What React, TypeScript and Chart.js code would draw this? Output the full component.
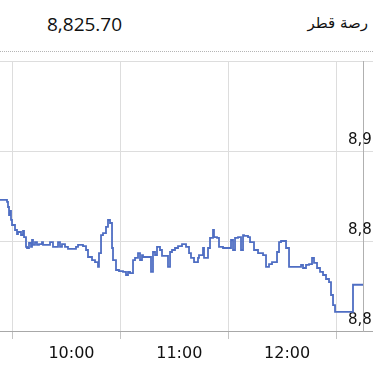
import React, { useEffect, useRef } from 'react';
import { Chart, registerables } from 'chart.js';

Chart.register(...registerables);

// ---- data ----
const indexName = 'رصة قطر';
const lastValueLabel = '8,825.70';

const times = [
  '9:23:00', '9:26:54', '9:27:27', '9:28:01', '9:28:34', '9:29:07', '9:29:41', '9:31:21', '9:32:28', '9:33:01',
  '9:34:41', '9:35:48', '9:36:22', '9:37:28', '9:38:02', '9:39:08', '9:40:15', '9:40:49', '9:41:22', '9:42:29',
  '9:43:35', '9:44:42', '9:46:22', '9:46:56', '9:50:50', '9:52:29', '9:55:17', '9:56:23', '9:57:30', '9:59:10',
  '10:00:50', '10:05:17', '10:06:25', '10:09:11', '10:10:52', '10:11:58', '10:14:12', '10:15:52', '10:17:32', '10:18:05',
  '10:19:13', '10:20:19', '10:21:59', '10:23:06', '10:24:13', '10:25:20', '10:25:53', '10:27:33', '10:29:13', '10:31:27',
  '10:33:07', '10:34:14', '10:35:21', '10:37:01', '10:38:08', '10:39:48', '10:40:55', '10:42:01', '10:42:35', '10:47:02',
  '10:48:08', '10:49:16', '10:50:22', '10:52:02', '10:53:09', '10:56:29', '10:57:37', '10:58:43', '11:00:23', '11:02:04',
  '11:04:17', '11:06:31', '11:08:11', '11:09:17', '11:10:58', '11:13:11', '11:13:44', '11:15:58', '11:16:32', '11:18:45',
  '11:19:52', '11:21:32', '11:22:05', '11:23:46', '11:24:52', '11:27:06', '11:31:33', '11:32:40', '11:33:47', '11:35:27',
  '11:37:07', '11:38:14', '11:38:47', '11:41:01', '11:42:08', '11:44:21', '11:46:35', '11:49:22', '11:51:02', '11:52:42',
  '11:54:22', '11:57:09', '11:58:16', '11:59:23', '12:02:10', '12:03:50', '12:10:31', '12:11:37', '12:13:17', '12:14:58',
  '12:16:38', '12:17:44', '12:19:25', '12:21:05', '12:22:45', '12:24:25', '12:26:05', '12:27:12', '12:28:19', '12:29:26',
  '12:39:26', '12:45:00',
];

const values = [
  8872.8, 8871.7, 8868.9, 8864.4, 8866.7, 8861.7, 8858.9, 8856.1, 8853.9, 8855.0,
  8853.3, 8855.6, 8852.2, 8846.7, 8846.1, 8848.9, 8846.7, 8850.6, 8847.8, 8849.4,
  8847.8, 8848.3, 8849.4, 8847.8, 8849.4, 8846.7, 8849.4, 8846.7, 8848.3, 8846.7,
  8845.6, 8846.7, 8847.8, 8847.2, 8845.0, 8841.1, 8839.4, 8838.3, 8835.6, 8843.3,
  8853.3, 8854.4, 8857.8, 8861.7, 8860.0, 8846.1, 8839.4, 8833.9, 8833.3, 8832.8,
  8831.1, 8832.8, 8832.2, 8839.4, 8840.6, 8843.3, 8839.4, 8842.2, 8841.1, 8832.8,
  8843.9, 8842.2, 8846.7, 8845.0, 8841.7, 8835.6, 8843.9, 8845.0, 8846.1, 8847.2,
  8848.3, 8846.7, 8843.3, 8840.6, 8838.3, 8840.6, 8842.2, 8846.1, 8840.6, 8846.1,
  8851.7, 8856.1, 8852.2, 8851.7, 8846.7, 8846.1, 8850.6, 8845.0, 8851.7, 8852.2,
  8845.0, 8853.3, 8852.8, 8852.2, 8849.4, 8845.0, 8843.3, 8842.2, 8835.6, 8837.2,
  8838.3, 8843.9, 8849.4, 8850.0, 8846.1, 8835.6, 8836.7, 8835.0, 8836.7, 8837.2,
  8840.6, 8837.8, 8835.0, 8832.8, 8831.1, 8828.9, 8827.2, 8820.0, 8814.4, 8810.6,
  8825.7, 8825.7,
];

const gridTimes = ['9:30', '10:30', '11:30', '12:30'];
const hourLabels = ['10:00', '11:00', '12:00'];
const xStart = '9:23';
const xEnd = '12:45';
const yMin = 8800;
const yMax = 8950;
const yStep = 50;

// ---- helpers ----
const toMin = (s: string) => {
  const p = s.split(':').map(Number);
  return p[0] * 60 + (p[1] || 0) + (p[2] || 0) / 60;
};
const pad2 = (n: number) => (n < 10 ? '0' + n : '' + n);
const minToLabel = (m: number) => `${Math.floor(m / 60)}:${pad2(Math.round(m % 60))}`;
const fmtThousands = (v: number) => {
  const s = String(Math.round(v));
  return s.replace(/\B(?=(\d{3})+(?!\d))/g, ',');
};

const CANVAS_W = 430;
const CANVAS_H = 309;
const PLOT_RIGHT = 363;

export default function App() {
  const ref = useRef<HTMLCanvasElement | null>(null);

  useEffect(() => {
    if (!ref.current) return;
    const gridSet = new Set(gridTimes.map(toMin));
    const labelSet = new Set(hourLabels.map(toMin));
    const allTicks = [...gridTimes, ...hourLabels].map(toMin).sort((a, b) => a - b);

    const chart = new Chart(ref.current, {
      type: 'line',
      data: {
        datasets: [
          {
            data: times.map((t, i) => ({ x: toMin(t), y: values[i] })),
            stepped: true,
            borderColor: '#4f6ec3',
            borderWidth: 1.8,
            pointRadius: 0,
            fill: false,
            tension: 0,
          },
        ],
      },
      options: {
        animation: false,
        responsive: false,
        devicePixelRatio: 1,
        layout: { padding: { top: 5, left: 0, right: 0, bottom: 0 } },
        plugins: { legend: { display: false }, tooltip: { enabled: false }, title: { display: false } },
        scales: {
          x: {
            type: 'linear',
            min: toMin(xStart),
            max: toMin(xEnd),
            afterBuildTicks: (axis: any) => {
              axis.ticks = allTicks.map((v) => ({ value: v }));
            },
            afterFit: (axis: any) => {
              axis.height = 34;
              axis.paddingLeft = 0;
              axis.paddingRight = 0;
            },
            ticks: {
              autoSkip: false,
              maxRotation: 0,
              minRotation: 0,
              padding: 5,
              labelOffset: 5,
              color: '#111',
              font: { family: 'DejaVu Sans', size: 16 },
              callback: (v: any) => (labelSet.has(Number(v)) ? minToLabel(Number(v)) : ''),
            },
            grid: {
              color: (c: any) => (c.tick && gridSet.has(c.tick.value) ? '#dddddd' : 'rgba(0,0,0,0)'),
              tickColor: (c: any) => (c.tick && gridSet.has(c.tick.value) ? '#c4c4c4' : 'rgba(0,0,0,0)'),
              tickLength: 8,
              lineWidth: 1,
            },
            border: { display: true, color: '#a8a8a8', width: 1 },
          },
          y: {
            type: 'linear',
            position: 'right',
            min: yMin,
            max: yMax,
            afterFit: (axis: any) => {
              axis.width = CANVAS_W - PLOT_RIGHT;
              axis.paddingTop = 0;
              axis.paddingBottom = 0;
            },
            ticks: {
              stepSize: yStep,
              mirror: true,
              crossAlign: 'near',
              padding: 28,
              labelOffset: -11,
              color: '#111',
              font: { family: 'DejaVu Sans', size: 15 },
              callback: (v: any) => (Number(v) === yMax ? '' : fmtThousands(Number(v))),
            },
            grid: {
              color: '#dddddd',
              tickColor: (c: any) => (c.tick && c.tick.value === yMin ? '#a8a8a8' : '#dddddd'),
              tickLength: 10,
              lineWidth: 1,
            },
            border: { display: true, color: '#b0b0b0', width: 1 },
          },
        },
      },
    } as any);

    return () => chart.destroy();
  }, []);

  return (
    <div
      style={{
        position: 'fixed',
        left: 0,
        top: 0,
        width: 373,
        height: 365,
        overflow: 'hidden',
        background: '#fff',
      }}
    >
      <div
        style={{
          position: 'absolute',
          left: 47,
          top: 15,
          fontFamily: '"Open Sans", "Liberation Sans", sans-serif',
          fontSize: 19,
          lineHeight: '19px',
          color: '#111',
          whiteSpace: 'nowrap',
        }}
      >
        {lastValueLabel}
      </div>
      <div
        dir="rtl"
        style={{
          position: 'absolute',
          right: 5,
          top: 14,
          fontFamily: '"DejaVu Sans", sans-serif',
          fontSize: 15,
          lineHeight: '18px',
          color: '#111',
          whiteSpace: 'nowrap',
        }}
      >
        {indexName}
      </div>
      <div
        style={{
          position: 'absolute',
          left: 0,
          top: 51,
          width: 373,
          height: 0,
          borderTop: '1px dotted #b5b5b5',
        }}
      />
      <canvas
        ref={ref}
        width={CANVAS_W}
        height={CANVAS_H}
        style={{ position: 'absolute', left: 0, top: 56, width: CANVAS_W, height: CANVAS_H }}
      />
    </div>
  );
}
